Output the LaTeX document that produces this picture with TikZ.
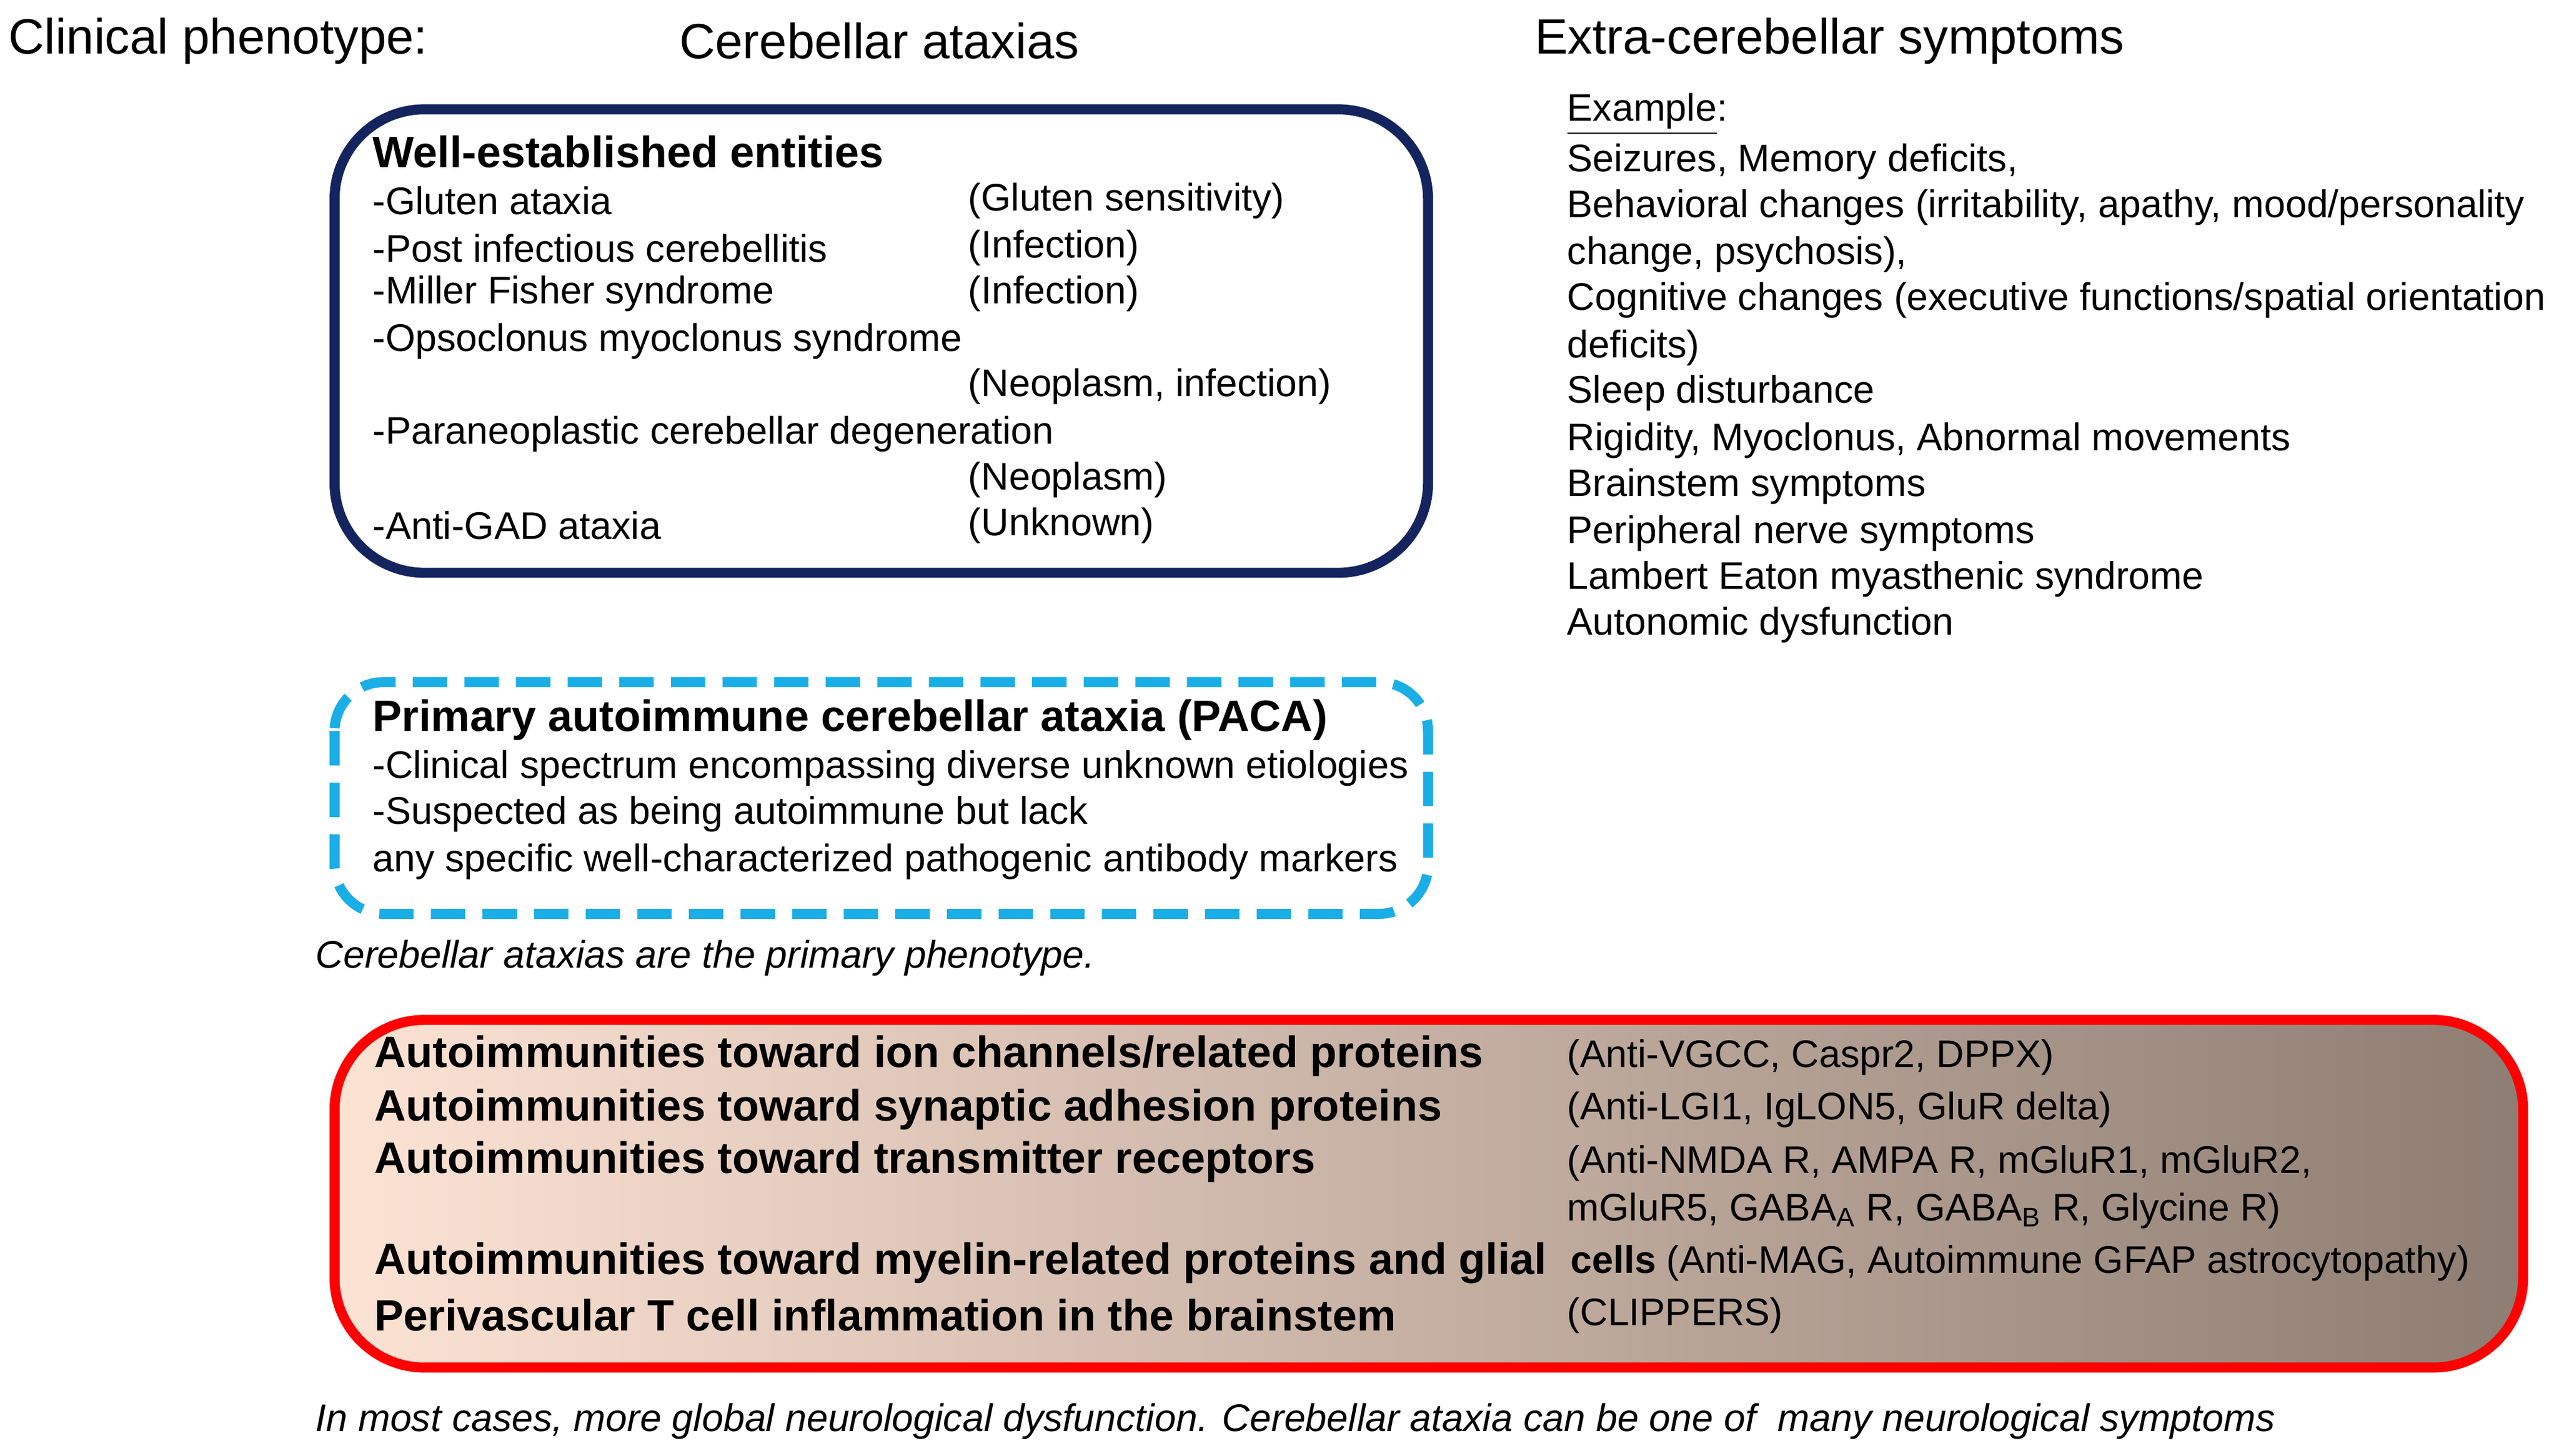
\documentclass[tikz,border=0pt]{standalone}
\usepackage{fontspec}
\setmainfont{Liberation Sans}
\definecolor{navy}{HTML}{14245E}
\definecolor{sky}{HTML}{1AAEE6}
\definecolor{peach}{HTML}{FDE3D4}
\definecolor{taupe}{HTML}{8E7D72}
\tikzset{
    t/.style={anchor=west, inner sep=0, font=\fontsize{13.4}{15}\selectfont},
    hd/.style={anchor=west, inner sep=0, font=\fontsize{17.3}{19}\selectfont},
    bt/.style={anchor=west, inner sep=0, font=\fontsize{15.3}{17}\selectfont\bfseries},
    it/.style={style=t, font=\fontsize{13.4}{15}\selectfont\itshape},
    box/.style={line width=3.5pt, rounded corners=1.1cm}
}
\begin{document}
\begin{tikzpicture}[x=0.02cm, y=-0.02cm]
\useasboundingbox (0,0) rectangle (1568,892);
% headers
\node[hd] (h1) at (5,25) {Clinical phenotype:};
\node[hd] (h2) at (416,25) {Cerebellar ataxias};
\node[hd] (h3) at (940,25) {Extra-cerebellar symptoms};
% well-established entities
\draw[box, navy] (205,67) rectangle (875,351);
\node[bt] (w0) at (228,93) {Well-established entities};
\node[t] (w1) at (228,123) {-Gluten ataxia};
\node[t] (w2) at (228,152) {-Post infectious cerebellitis};
\node[t] (w3) at (228,180) {-Miller Fisher syndrome};
\node[t] (w4) at (228,209) {-Opsoclonus myoclonus syndrome};
\node[t] (w5) at (228,266) {-Paraneoplastic cerebellar degeneration};
\node[t] (w6) at (228,322) {-Anti-GAD ataxia};
\node[t] (c1) at (593,123) {(Gluten sensitivity)};
\node[t] (c2) at (593,152) {(Infection)};
\node[t] (c3) at (593,180) {(Infection)};
\node[t] (c4) at (593,237) {(Neoplasm, infection)};
\node[t] (c5) at (593,294) {(Neoplasm)};
\node[t] (c6) at (593,322) {(Unknown)};
% PACA
\draw[box, sky, rounded corners=0.6cm, dashed, dash pattern=on 12pt off 6pt] (205,418) rectangle (875,560);
\node[bt] (p0) at (228,441) {Primary autoimmune cerebellar ataxia (PACA)};
\node[t] (p1) at (228,471) {-Clinical spectrum encompassing diverse unknown etiologies};
\node[t] (p2) at (228,499) {-Suspected as being autoimmune but lack};
\node[t] (p3) at (228,528) {any specific well-characterized pathogenic antibody markers};
\node[it] (cap1) at (193,587) {Cerebellar ataxias are the primary phenotype.};
% extra-cerebellar
\node[t] (e0) at (960,70) {\underline{Example}:};
\node[t] (e1) at (960,99) {Seizures, Memory deficits,};
\node[t] (e2) at (960,127) {Behavioral changes (irritability, apathy, mood/personality};
\node[t] (e3) at (960,156) {change, psychosis),};
\node[t] (e4) at (960,184) {Cognitive changes (executive functions/spatial orientation};
\node[t] (e5) at (960,213) {deficits)};
\node[t] (e6) at (960,241) {Sleep disturbance};
\node[t] (e7) at (960,270) {Rigidity, Myoclonus, Abnormal movements};
\node[t] (e8) at (960,298) {Brainstem symptoms};
\node[t] (e9) at (960,327) {Peripheral nerve symptoms};
\node[t] (e10) at (960,355) {Lambert Eaton myasthenic syndrome};
\node[t] (e11) at (960,383) {Autonomic dysfunction};
% autoimmunities
\draw[box, red, left color=peach, right color=taupe] (205,625) rectangle (1546,838);
\node[bt] (a1) at (229,647) {Autoimmunities toward ion channels/related proteins};
\node[bt] (a2) at (229,680) {Autoimmunities toward synaptic adhesion proteins};
\node[bt] (a3) at (229,712) {Autoimmunities toward transmitter receptors};
\node[bt] (a4) at (229,774) {Autoimmunities toward myelin-related proteins and glial};
\node[bt] (a5) at (229,806) {Perivascular T cell inflammation in the brainstem};
\node[t] (b1) at (960,648) {(Anti-VGCC, Caspr2, DPPX)};
\node[t] (b2) at (960,680) {(Anti-LGI1, IgLON5, GluR delta)};
\node[t] (b3) at (960,713) {(Anti-NMDA R, AMPA R, mGluR1, mGluR2,};
\node[t] (b4) at (960,742) {mGluR5, GABA\textsubscript{A} R, GABA\textsubscript{B} R, Glycine R)};
\node[t] (b5) at (962,774) {\textbf{cells} (Anti-MAG, Autoimmune GFAP astrocytopathy)};
\node[t] (b6) at (960,806) {(CLIPPERS)};
\node[it] (cap2) at (193,871) {In most cases, more global neurological dysfunction. Cerebellar ataxia can be one of\ \ many neurological symptoms};
\end{tikzpicture}
\end{document}
